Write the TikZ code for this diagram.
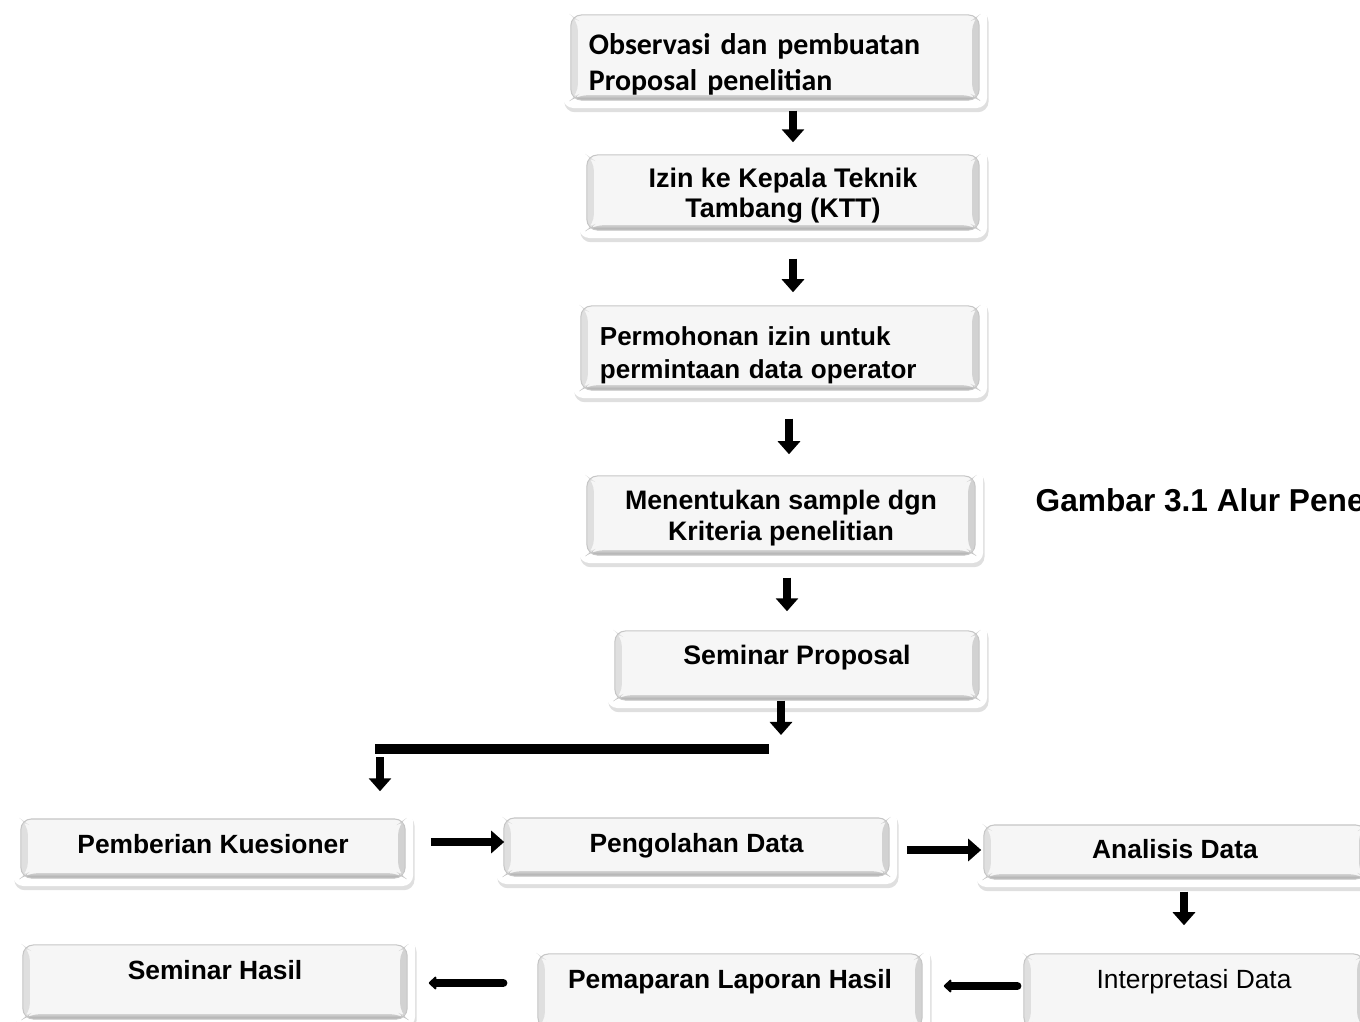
\documentclass[tikz,border=0pt]{standalone}
\usepackage{fontspec}
\setmainfont{Liberation Sans}
\newfontfamily\calfont{Carlito}
\usetikzlibrary{positioning}
\usetikzlibrary{arrows.meta}
\usetikzlibrary{shadows}

\tikzset{
  panel/.style={rectangle, rounded corners=3pt, fill=white, inner sep=0pt,
    drop shadow={shadow xshift=0.4pt, shadow yshift=-1.2pt, opacity=0.25},
    path picture={
      \coordinate (bnw) at ([shift={(8,8)}]path picture bounding box.north west);
      \coordinate (bse) at ([shift={(-8,-8)}]path picture bounding box.south east);
      \coordinate (bsw) at (bnw |- bse);
      \coordinate (bne) at (bse |- bnw);
      \fill[gray!7] (bnw) rectangle (bse);
      % bevel edges
      \fill[gray!25] (bnw) -- (bsw) -- ([shift={(7,-5)}]bsw) -- ([shift={(7,5)}]bnw) -- cycle;
      \fill[gray!35] (bne) -- (bse) -- ([shift={(-7,-5)}]bse) -- ([shift={(-7,5)}]bne) -- cycle;
      \fill[top color=gray!35, bottom color=gray!70] (bsw) -- (bse) -- ([shift={(-7,-5)}]bse) -- ([shift={(7,-5)}]bsw) -- cycle;
      \draw[gray!45, line width=0.3pt] (bnw) rectangle (bse);
    }},
  fatarrow/.style={line width=0.08cm, -{Triangle[width=0.22cm,length=0.13cm]}},
  backarrow/.style={line width=0.085cm, line cap=round, -{Triangle[width=0.15cm,length=0.08cm,round]}},
  txt/.style={text height=0.72em, text depth=#1},
}

\begin{document}
\begin{tikzpicture}[x=0.01cm,y=-0.01cm]
    \useasboundingbox (0,0) rectangle (1360,1022);
    \clip (0,0) rectangle (1360,1022);

    % upper steps
    \node[panel, minimum width=4.24cm, minimum height=1.01cm, inner xsep=0.26cm, text width=3.72cm, align=left, text depth=0.26cm,
          font=\calfont\bfseries\fontsize{8.5}{10.2}\selectfont] (obs) at (775,57.5) {Observasi dan pembuatan\\Proposal penelitian};
    \node[panel, minimum width=4.08cm, minimum height=0.91cm, align=center, text depth=-0.08cm,
          font=\bfseries\fontsize{7.65}{8.5}\selectfont] (izin) at (783,192.5) {Izin ke Kepala Teknik\\Tambang (KTT)};
    \node[panel, minimum width=4.14cm, minimum height=1.0cm, inner xsep=0.27cm, text width=3.60cm, align=left, text depth=0.24cm,
          font=\bfseries\fontsize{7.4}{9.4}\selectfont] (perm) at (780,348) {Permohonan izin untuk\\permintaan data operator};
    \node[panel, minimum width=4.04cm, minimum height=0.95cm, align=center, text depth=0cm,
          font=\bfseries\fontsize{7.6}{8.8}\selectfont] (men) at (781,515.5) {Menentukan sample dgn\\Kriteria penelitian};
    \node[panel, minimum width=3.80cm, minimum height=0.85cm, txt=0.27cm,
          font=\bfseries\fontsize{7.6}{8.8}\selectfont] (sem) at (797,665.5) {Seminar Proposal};

    % caption
    \node[anchor=west, inner sep=0pt, font=\bfseries\fontsize{9}{10}\selectfont] (cap) at (1035,500) {Gambar 3.1 Alur Pene};

    % lower steps
    \node[panel, minimum width=4.0cm, minimum height=0.75cm, txt=0.15cm,
          font=\bfseries\fontsize{7.5}{8.8}\selectfont] (kues) at (213,848.5) {Pemberian Kuesioner};
    \node[panel, minimum width=4.01cm, minimum height=0.74cm, txt=0.14cm,
          font=\bfseries\fontsize{7.5}{8.8}\selectfont] (olah) at (696.5,847) {Pengolahan Data};
    \node[panel, minimum width=3.98cm, minimum height=0.70cm, txt=0.12cm,
          font=\bfseries\fontsize{7.5}{8.8}\selectfont] (anal) at (1175,852) {Analisis Data};
    \node[panel, minimum width=4.0cm, minimum height=0.90cm, txt=0.30cm,
          font=\bfseries\fontsize{7.5}{8.8}\selectfont] (hasil) at (215,982) {Seminar Hasil};
    \node[panel, minimum width=4.0cm, minimum height=0.90cm, txt=0.30cm,
          font=\bfseries\fontsize{7.5}{8.8}\selectfont] (papar) at (730,991) {Pemaparan Laporan Hasil};
    \node[panel, minimum width=3.56cm, minimum height=0.90cm, txt=0.30cm,
          font=\fontsize{7.5}{8.8}\selectfont] (interp) at (1194,991) {Interpretasi Data};

    % split line
    \coordinate (barL) at (375,749);
    \coordinate (barR) at (769,749);
    \draw[line width=0.1cm] (barL) -- (barR);

    % arrows
    \draw[fatarrow, shorten <=0.02cm, shorten >=0.04cm] (obs.south -| 793,0) -- (izin.north -| 793,0);
    \draw[fatarrow, shorten <=0.20cm, shorten >=0.05cm] (izin.south -| 793,0) -- (perm.north -| 793,0);
    \draw[fatarrow, shorten <=0.20cm, shorten >=0.13cm] (perm.south -| 789,0) -- (men.north -| 789,0);
    \draw[fatarrow, shorten <=0.14cm, shorten >=0.11cm] (men.south -| 787,0) -- (sem.north -| 787,0);
    \draw[fatarrow, shorten <=-0.08cm, shorten >=0.14cm] (sem.south -| 781,0) -- (barR -| 781,0);
    \draw[fatarrow, shorten <=0.08cm, shorten >=0.19cm] (barL -| 380,0) -- (kues.north -| 380,0);
    \draw[fatarrow, shorten <=0.17cm, shorten >=-0.09cm] (kues.east |- 0,842) -- (olah.west |- 0,842);
    \draw[fatarrow, shorten <=0.09cm, shorten >=-0.06cm] (olah.east |- 0,850) -- (anal.west |- 0,850);
    \draw[fatarrow, shorten <=0.04cm, shorten >=0.20cm] (anal.south -| 1184,0) -- (interp.north -| 1184,0);
    \draw[backarrow, shorten <=-0.02cm, shorten >=0.13cm] (interp.west |- 0,986) -- (papar.east |- 0,986);
    \draw[backarrow, shorten <=0.26cm, shorten >=0.13cm] (papar.west |- 0,983) -- (hasil.east |- 0,983);
\end{tikzpicture}
\end{document}
